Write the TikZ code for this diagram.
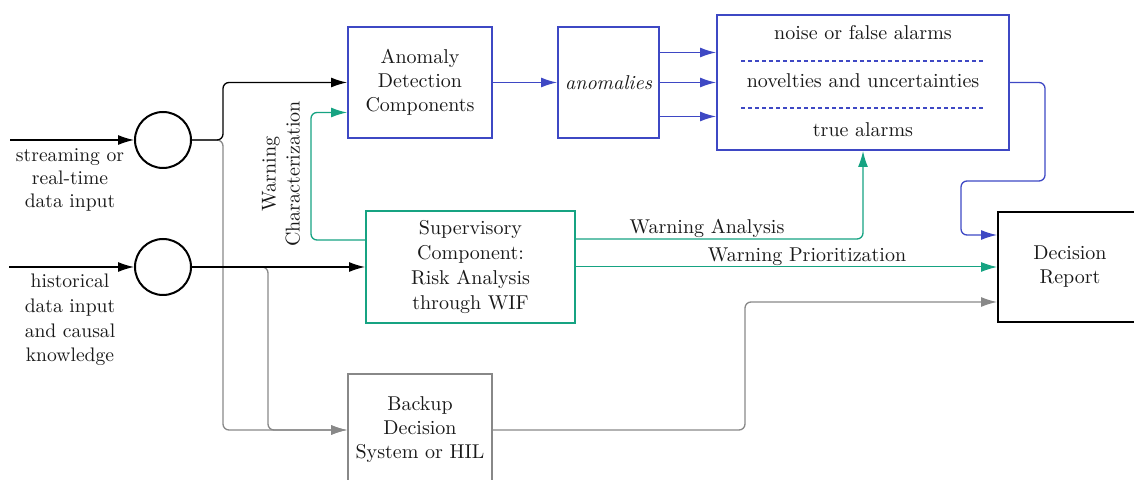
\documentclass[tikz,border=0pt]{standalone}
\usetikzlibrary{arrows.meta}
\definecolor{bluec}{RGB}{62,72,196}
\definecolor{tealc}{RGB}{22,163,130}
\definecolor{grayc}{RGB}{136,136,136}
\definecolor{txtc}{RGB}{25,25,25}
\begin{document}
\begin{tikzpicture}[x=0.5pt,y=-0.5pt,
  txt/.style={text=txtc,font=\fontsize{10}{12}\selectfont,align=center,inner sep=0pt},
  box/.style={txt,draw,line width=1pt,minimum width=72pt,minimum height=55.5pt},
  ring/.style={draw,circle,line width=1pt,minimum size=28pt,inner sep=0pt},
  conn/.style={line width=0.65pt,rounded corners=3pt,-{Latex[length=8pt,width=5pt]}},
  kconn/.style={conn,draw=black},
  bconn/.style={conn,draw=bluec},
  tconn/.style={conn,draw=tealc},
  gconn/.style={conn,draw=grayc}]
\useasboundingbox (0,0) rectangle (1134,480);

% inputs
\node[ring] (c1) at (163,140) {};
\node[ring] (c2) at (163,267) {};
\coordinate (in1) at (10,140);
\coordinate (in2) at (9,267);
\node[txt,font=\fontsize{9.8}{11.5}\selectfont] (l1) at (70,180) {streaming or\\real-time\\data input};
\node[txt,font=\fontsize{9.8}{12.3}\selectfont] (l2) at (70,320) {historical\\data input\\and causal\\knowledge};

% processing boxes
\node[box,draw=bluec] (ad) at (420,82.5) {Anomaly\\Detection\\Components};
\node[box,draw=bluec,minimum width=50.5pt] (an) at (608.5,82.5) {\itshape anomalies};
\node[box,draw=bluec,minimum width=146pt,minimum height=67.5pt] (al) at (863,82.5) {};
\node[txt] (al1) at (863,33) {noise or false alarms};
\node[txt] (al2) at (863,81) {novelties and uncertainties};
\node[txt] (al3) at (863,130) {true alarms};
\draw[bluec,line width=0.6pt,dash pattern=on 2pt off 1.5pt] (741,61) -- (985,61);
\draw[bluec,line width=0.6pt,dash pattern=on 2pt off 1.5pt] (741,108) -- (985,108);

\node[box,draw=tealc,minimum width=104.5pt,minimum height=56pt,font=\fontsize{10}{12.5}\selectfont] (sv) at (470.5,267) {Supervisory\\Component:\\Risk Analysis\\through WIF};
\node[box,draw=grayc,minimum height=56pt] (bk) at (420,430) {Backup\\Decision\\System or HIL};
\node[box,draw=black,minimum height=55pt] (dr) at (1070,267) {Decision\\Report};

\node[txt,rotate=90] (wc) at (281,174) {Warning\\Characterization};

% branch points
\coordinate (j1) at (223,140);
\coordinate (j2) at (268,267);
\coordinate (tv) at (311,240);
\coordinate (br) at (1045,82.5);
\coordinate (bl) at (1045,181);
\coordinate (bd) at (961,181);
\coordinate (gv) at (745,430);

% gray links to the backup system
\draw[gconn] (c1.east) -- (j1) |- (bk.west);
\draw[gconn] (c2.east) -- (j2) |- (bk.west);
\draw[gconn] (bk.east) -- (gv) |- ([yshift=-17.5pt]dr.west);

% black inputs
\draw[kconn] (in1) -- (c1.west);
\draw[kconn] (in2) -- (c2.west);
\draw[kconn] (c1.east) -- (j1) |- (ad.west);
\draw[kconn] (c2.east) -- (sv.west);

% blue flow
\draw[bconn] (ad.east) -- (an.west);
\draw[bconn] ([yshift=15pt]an.east) -- ([yshift=15pt]an.east -| al.west);
\draw[bconn] (an.east) -- (an.east -| al.west);
\draw[bconn] ([yshift=-17pt]an.east) -- ([yshift=-17pt]an.east -| al.west);
\draw[bconn] (al.east) -- (br) -- (bl) -- (bd) |- ([yshift=16pt]dr.west);

% teal warnings
\draw[tconn] ([yshift=13.5pt]sv.west) -- (tv) |- ([yshift=-15pt]ad.west);
\draw[tconn] ([yshift=14pt]sv.east) -| (al.south);
\draw[tconn,line width=0.5pt] (sv.east) -- (dr.west);
\node[txt] (wa) at (707,228) {Warning Analysis};
\node[txt] (wp) at (807,257) {Warning Prioritization};
\end{tikzpicture}
\end{document}
